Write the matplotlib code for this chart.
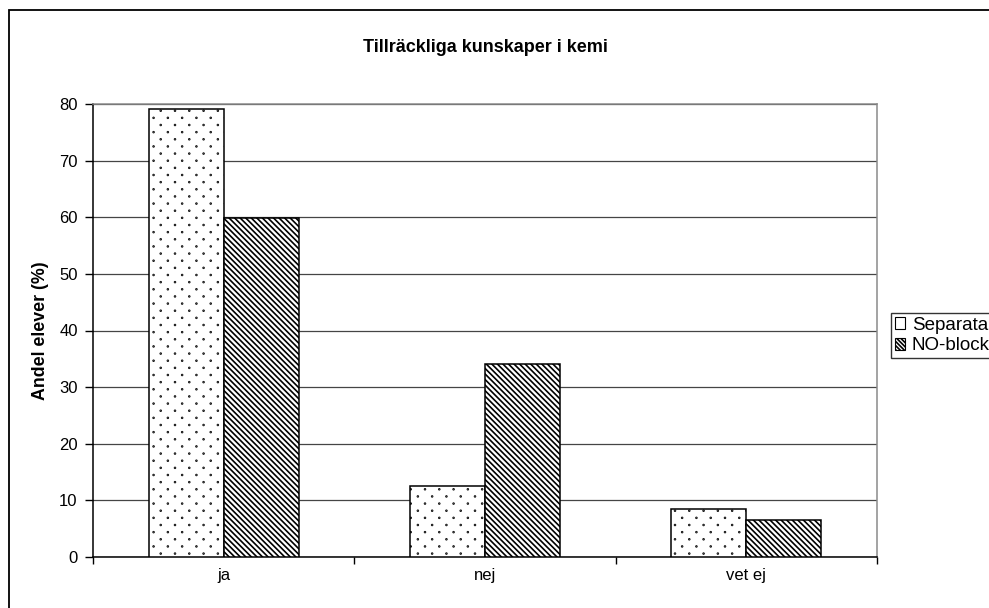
import numpy as np
import matplotlib
matplotlib.use("Agg")
import matplotlib.pyplot as plt
import matplotlib.hatch as mhatch
from matplotlib.path import Path
from matplotlib.patches import Rectangle, Patch

# --- data -------------------------------------------------------------
categories = ["ja", "nej", "vet ej"]
series_names = ["Separata", "NO-block"]
separata = [79.2, 12.5, 8.5]
no_block = [59.8, 34.1, 6.5]
y_ticks = [0, 10, 20, 30, 40, 50, 60, 70, 80]

title = "Tillräckliga kunskaper i kemi"
y_label = "Andel elever (%)"


# Staggered sparse dot texture used for the '.' hatch character
class StaggeredDots(mhatch.HatchPatternBase):
    cols_per_mark = 7
    radius = 0.004

    def __init__(self, hatch, density):
        n = hatch.count('.')
        self.cols = self.cols_per_mark * n
        self.rows = 2 * self.cols
        circle = Path.unit_circle()
        self._cv = circle.vertices
        self._cc = circle.codes
        self.num_vertices = self.cols * self.rows * len(self._cv)

    def set_vertices_and_codes(self, vertices, codes):
        k = len(self._cv)
        i = 0
        for r in range(self.rows):
            y = (r + 0.5) / self.rows
            for c in range(self.cols):
                x = (c + 0.25 + 0.5 * (r % 2)) / self.cols
                vertices[i:i + k] = self._cv * self.radius + (x, y)
                codes[i:i + k] = self._cc
                i += k


mhatch._hatch_types = [t for t in mhatch._hatch_types
                       if t is not mhatch.SmallFilledCircles] + [StaggeredDots]

plt.rcParams['font.family'] = ['Liberation Sans', 'DejaVu Sans']
plt.rcParams['hatch.linewidth'] = 1.2

W, H = 989, 608
fig = plt.figure(figsize=(W / 100, H / 100), dpi=100)
fig.patch.set_facecolor('white')

# outer chart frame
fig.patches.append(Rectangle((8.5 / W, -0.1), 1.2, 1 - 10.5 / H + 0.1,
                             transform=fig.transFigure, fill=False,
                             edgecolor='black', linewidth=1.3, zorder=0))

left, right, top, bottom = 93, 877, 104, 557
ax = fig.add_axes([left / W, 1 - bottom / H, (right - left) / W, (bottom - top) / H])

x = np.arange(len(categories))
bw = 0.287
stripes = '\\' * 6
hatches = ['.', stripes]
for k, (vals, hatch) in enumerate(zip([separata, no_block], hatches)):
    ax.bar(x + (k - 0.5) * bw, vals, width=bw, color='white', edgecolor='black',
           linewidth=1.1, hatch=hatch, zorder=3)

ax.set_xlim(-0.5, len(categories) - 0.5)
ax.set_ylim(0, 80)
ax.set_yticks(y_ticks)
ax.yaxis.grid(True, color='#454545', linewidth=0.9, zorder=0)
ax.set_axisbelow(True)

ax.set_xticks(np.arange(len(categories) + 1) - 0.5)
ax.set_xticklabels([])
ax.set_xticks(x, minor=True)
ax.set_xticklabels(categories, minor=True)
ax.tick_params(axis='x', which='major', direction='out', length=5, width=1, color='black')
ax.tick_params(axis='x', which='minor', length=0, pad=8, labelsize=12)
ax.tick_params(axis='y', direction='out', length=6, width=1, labelsize=12, pad=5)

for s in ['left', 'bottom']:
    ax.spines[s].set_color('black')
    ax.spines[s].set_linewidth(1.1)
for s in ['top', 'right']:
    ax.spines[s].set_color('#8a8a8a')
    ax.spines[s].set_linewidth(1.1)

ax.set_ylabel(y_label, fontsize=12.8, fontweight='bold', labelpad=7)
fig.text((left + right) / 2 / W, 1 - 47 / H, title, ha='center', va='center',
         fontsize=13, fontweight='bold')

handles = [Patch(facecolor='white', edgecolor='black', hatch=h, linewidth=0.8)
           for h in ['', '\\' * 8]]
leg = fig.legend(handles, series_names, loc='upper left',
                 bbox_to_anchor=(891 / W, 1 - 313 / H), fontsize=13.5,
                 frameon=True, fancybox=False, shadow=False,
                 handlelength=0.55, handleheight=0.55, handletextpad=0.35,
                 borderpad=0.2, labelspacing=0.2, borderaxespad=0)
leg.get_frame().set_edgecolor('black')
leg.get_frame().set_linewidth(1.0)

fig.savefig('out.png', dpi=100)
